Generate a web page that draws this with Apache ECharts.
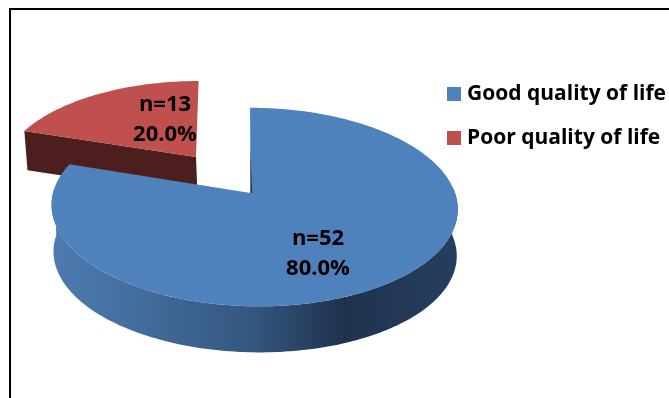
<!DOCTYPE html>
<html><head><meta charset="utf-8">
<style>html,body{margin:0;padding:0;background:#fff}#c{width:669px;height:398px}</style>
<script src="https://cdn.jsdelivr.net/npm/echarts@6/dist/echarts.min.js"></script>
</head><body><div id="c"></div>
<script>
const categories = ['Good quality of life', 'Poor quality of life'];
const counts = [52, 13];
const percents = ['80.0%', '20.0%'];
const colors = ['#4f81bd', '#c0504d'];

const FONT = '"Open Sans", sans-serif';
const total = counts.reduce((a, b) => a + b, 0);
// Each slice has its own perspective pose, as the red one is pulled out of the pie.
const poses = [
  { ox: 250.5, oy: 193, a: 201, b: 97.3, k: 0.1414, sx: 3.5, tilt: -4, depth: 47, shrink: 0.993, dx: 0.5, lab: [318, 254] },
  { ox: 196, oy: 157, a: 190.5, b: 88.3, k: 0.162, sx: 0, tilt: 3, depth: 39, shrink: 0.99, dx: 1.5, lab: [165, 120] }
];
function project(p, t, r, dz) {
  const u = Math.sin(t) * r, v = Math.cos(t) * r, w = 1 + p.k * v;
  return [p.ox + (p.a * u + p.sx * r + p.tilt * v) / w + (dz ? p.dx : 0), p.oy - p.b * v / w + (dz ? p.depth : 0)];
}
function arc(p, t0, t1, r, dz) {
  const n = Math.max(2, Math.ceil(Math.abs(t1 - t0) / 0.02)), out = [];
  for (let i = 0; i <= n; i++) out.push(project(p, t0 + (t1 - t0) * i / n, r, dz));
  return out;
}
function polyEl(points, fill, z2) {
  return { type: 'polygon', z2: z2, shape: { points: points }, style: { fill: fill } };
}
function sliceAngles(idx) {
  let s = 0;
  for (let i = 0; i < idx; i++) s += counts[i];
  return [s / total * 2 * Math.PI, (s + counts[idx]) / total * 2 * Math.PI];
}
function renderSlice(idx) {
  const p = poses[idx], [t0, t1] = sliceAngles(idx), ch = [];
  if (idx === 0) {
    const grad = new echarts.graphic.LinearGradient(0, 0, 1, 0, [
      { offset: 0, color: '#4d7cb2' }, { offset: 0.25, color: '#416a98' },
      { offset: 0.5, color: '#33567f' }, { offset: 0.72, color: '#1f324d' },
      { offset: 1, color: '#263f5f' }
    ]);
    const a0 = Math.PI / 2 - 0.05, a1 = 3 * Math.PI / 2 + 0.05;
    const top = arc(p, a0, a1, 1, false), bot = arc(p, a1, a0, p.shrink, true);
    ch.push(polyEl(top.concat(bot), grad, 1));
    // narrow dark sliver of the hidden cut face at the centre
    ch.push(polyEl([[p.ox, p.oy - 45], [p.ox + 1.6, p.oy], [p.ox, p.oy]], '#1f324d', 3));
  } else {
    const e = project(p, t0, 1, false), e2 = project(p, t0, p.shrink, true);
    const c = project(p, 0, 0, false), c2 = project(p, 0, 0, true);
    ch.push(polyEl([e, c, c2, e2], '#4d1e1e', 1));
  }
  const top = [project(p, 0, 0, false)].concat(arc(p, t0, t1, 1, false));
  ch.push(polyEl(top, colors[idx], 2));
  ['n=' + counts[idx], percents[idx]].forEach((txt, i) => {
    ch.push({ type: 'text', z2: 5, style: {
      text: txt, x: p.lab[0], y: p.lab[1] + (i === 0 ? -15 : 15),
      font: 'bold 22px ' + FONT, fill: '#000', align: 'center', verticalAlign: 'middle'
    } });
  });
  return { type: 'group', children: ch };
}
const series = categories.map((name, idx) => ({
  type: 'custom', name: name, coordinateSystem: 'none', silent: true,
  z: idx === 0 ? 3 : 2, color: colors[idx], itemStyle: { color: colors[idx] },
  data: [{ name: name, value: counts[idx] }],
  renderItem: () => renderSlice(idx)
}));
const chart = echarts.init(document.getElementById('c'), null, { renderer: 'canvas' });
chart.setOption({
  animation: false, backgroundColor: '#fff',
  legend: {
    data: categories, orient: 'vertical', left: 447, top: 80, icon: 'rect',
    itemWidth: 14, itemHeight: 14, itemGap: 16, padding: 0, selectedMode: false,
    textStyle: { fontFamily: FONT, fontWeight: 'bold', fontSize: 21, color: '#000', padding: [0, 0, 0, 1], lineHeight: 28 }
  },
  graphic: [
    { type: 'polyline', z: 10, shape: { points: [[10, 398], [10, 9], [669, 9]] }, style: { stroke: '#000', lineWidth: 2, fill: null } }
  ],
  series: series
});
</script></body></html>
